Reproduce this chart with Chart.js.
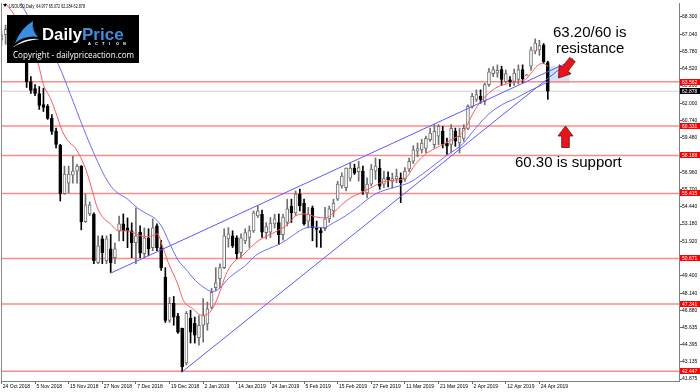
<!DOCTYPE html>
<html><head><meta charset="utf-8">
<script src="https://cdn.jsdelivr.net/npm/chart.js@4.4.1/dist/chart.umd.min.js"></script>
<style>html,body{margin:0;padding:0;background:#fff;overflow:hidden}canvas{display:block}</style>
</head><body>
<canvas id="c" width="700" height="392"></canvas>
<script>
// ---------- DATA ----------
const dateLabels = ['24 Oct 2018','5 Nov 2018','15 Nov 2018','27 Nov 2018','7 Dec 2018','19 Dec 2018','2 Jan 2019','14 Jan 2019','24 Jan 2019','5 Feb 2019','15 Feb 2019','27 Feb 2019','11 Mar 2019','21 Mar 2019','2 Apr 2019','12 Apr 2019','24 Apr 2019'];
const dateTickIdx = [0,8,16,24,32,40,48,56,64,72,80,88,96,104,112,120,128];

const opens = [66.6,67.0,67.4,67.5,67.0,66.2,65.3,63.58,63.07,62.71,61.90,61.77,60.90,59.95,58.95,55.40,56.17,56.76,57.05,57.41,
53.35,53.92,53.92,50.37,52.11,50.51,51.38,50.73,52.69,53.20,52.91,52.69,51.82,52.60,51.02,52.18,51.46,53.05,51.46,49.30,
46.16,47.39,46.46,45.57,43.05,46.30,45.93,44.90,45.80,45.90,47.10,48.55,49.20,50.00,52.10,52.33,52.18,51.10,51.96,52.20,
52.69,53.77,53.90,52.55,52.60,53.20,53.30,52.40,53.30,54.50,54.00,55.38,54.72,53.40,54.36,52.90,52.70,52.84,53.56,54.14,
55.00,55.96,55.84,56.54,57.26,57.00,57.05,55.45,56.10,57.05,57.26,56.10,56.60,56.30,56.47,56.56,56.47,57.19,57.77,58.50,
58.60,58.71,59.35,58.98,59.59,59.95,59.08,59.00,59.95,59.10,59.44,60.17,61.77,62.28,62.50,62.13,63.36,64.16,64.20,64.45,
63.58,63.70,63.60,63.73,64.45,64.00,64.70,65.80,65.90,66.24,64.977];
const highs = [67.3,67.7,67.9,67.6,67.2,66.4,65.5,63.94,63.36,63.22,63.10,61.91,61.18,60.19,59.00,57.41,57.41,58.14,57.55,57.45,
55.38,54.80,54.00,52.33,52.33,52.33,52.44,51.80,53.77,53.92,53.63,53.27,54.36,53.05,52.90,52.84,53.56,53.20,52.00,50.00,
47.83,47.90,46.66,45.60,46.80,46.90,46.40,46.50,47.75,47.49,48.50,50.00,50.28,52.84,52.93,52.69,52.33,52.47,52.84,53.05,
54.14,54.50,54.20,53.29,53.66,53.90,53.92,53.90,55.00,55.00,55.60,55.74,55.00,54.40,54.50,53.40,52.93,54.40,54.50,55.00,
56.30,56.92,57.29,57.65,57.55,57.77,57.41,56.56,57.53,58.00,57.90,57.05,57.00,56.90,57.20,56.92,57.30,58.00,58.90,59.10,
59.37,59.60,60.19,60.44,60.44,60.31,59.46,60.44,60.19,60.19,60.44,61.89,62.73,62.98,62.98,63.46,64.55,64.67,64.80,64.70,
64.43,63.94,64.50,64.80,64.80,64.10,66.10,66.70,66.60,66.36,65.072];
const lows = [66.2,66.3,66.8,66.6,65.8,65.1,63.15,62.71,62.56,61.55,61.40,60.82,59.73,58.74,54.87,55.35,55.45,56.17,56.17,52.76,
53.30,53.80,50.29,50.29,50.29,50.29,49.65,50.30,51.96,51.96,51.46,50.73,50.29,50.73,50.73,50.87,51.24,51.24,49.80,46.00,
46.00,45.80,45.21,42.40,42.90,44.50,44.50,44.34,44.56,45.43,47.00,48.30,48.55,49.93,51.50,51.47,50.66,50.73,51.75,51.48,
52.57,53.66,52.20,52.09,52.20,52.90,51.70,52.00,53.05,53.30,53.80,54.14,53.10,52.90,51.96,51.50,51.47,52.70,53.30,53.70,
54.90,55.80,55.60,56.32,56.80,56.32,55.35,55.10,55.96,56.44,55.72,55.84,55.90,55.80,56.20,54.75,56.30,57.00,57.60,58.10,
58.37,58.40,59.22,58.74,58.98,58.74,58.26,58.37,58.86,58.37,59.22,60.07,61.64,62.13,62.00,61.89,63.22,63.94,63.90,63.30,
63.46,63.22,63.30,63.40,63.50,64.00,64.40,65.60,65.50,64.90,62.284];
const closes = [67.0,67.4,67.6,67.0,66.1,65.3,63.58,62.93,62.71,61.84,61.69,60.90,59.95,59.00,55.40,56.83,56.83,57.05,57.41,53.35,
54.58,54.58,50.51,51.60,51.09,52.11,50.37,51.38,53.20,52.69,52.69,51.82,52.33,51.05,52.18,51.38,52.90,51.46,50.00,46.16,
47.39,46.39,45.30,42.75,46.66,45.30,45.07,45.80,46.50,47.00,48.20,48.90,50.00,52.33,52.47,51.60,51.02,52.18,52.57,52.70,
54.00,54.14,52.60,53.00,53.25,53.56,52.40,53.70,54.29,54.00,55.38,54.50,53.20,53.90,52.91,52.80,52.55,53.56,54.29,54.72,
56.10,56.68,57.26,57.26,56.90,57.30,55.59,56.10,57.19,57.41,55.95,56.50,56.40,56.50,56.68,56.20,57.05,57.77,58.60,58.70,
59.10,59.44,59.83,59.95,60.31,59.00,58.86,60.17,59.23,59.59,60.17,61.77,62.50,62.64,62.28,63.36,64.30,64.45,64.40,63.73,
64.16,63.58,64.20,64.45,63.80,64.05,65.90,66.40,66.20,65.03,62.878];

// moving averages (bar position, price)
const fastMaAt = [0,1.67,3.33,5.95,8.8,10.0,11.66,12.85,14.51,15.94,17.61,19.27,20.46,21.65,22.84,24.27,25.93,27.84,29.98,31.41,33.07,34.26,35.93,37.1,38.3,39.7,41.9,43.3,45.4,47.8,49.25,50.4,52.1,53.3,54.96,57.34,59.24,61.15,63.29,65.67,68.28,69.95,72.33,74.71,77.09,78.99,80.66,83.04,85.42,87.8,90.65,93.74,96.12,98.5,100.88,103.26,105.64,107.3,109.2,110.4,112.06,113.5,115.87,118.25,120.63,123.0,124.67,126.33,127.76,128.95,130.15];
const fastMa = [69.6,69.03,68.30,66.56,64.81,63.36,62.35,61.40,59.95,59.22,58.72,57.77,56.83,55.59,54.36,53.63,53.20,52.69,52.69,52.55,52.33,52.26,52.33,52.47,51.60,50.37,48.84,47.61,47.03,46.52,46.66,47.10,48.34,49.42,50.30,50.88,51.46,51.97,52.33,52.69,53.2,53.78,53.92,53.71,53.63,54.0,54.51,55.09,55.45,55.81,56.25,56.39,56.54,57.55,58.28,58.72,59.08,59.37,59.73,60.17,61.19,61.91,62.71,63.22,63.44,63.58,63.73,64.31,64.81,64.89,64.67];
const slowMaAt = [4.52,6.42,13.56,16.42,19.51,22.84,25.22,27.12,29.98,32.36,34.26,36.64,38.31,39.73,42.11,43.78,46.16,48.54,50.2,52.1,54.0,56.39,58.05,60.43,63.53,66.38,69.24,71.85,74.23,76.61,78.99,81.85,84.23,86.6,88.98,91.36,93.74,96.84,100.17,103.26,106.35,109.68,112.78,115.87,119.2,122.3,125.39,128.72,130.15];
const slowMa = [69.39,68.30,64.81,62.64,60.17,57.77,56.32,55.59,55.01,54.36,53.99,53.56,52.91,51.97,50.51,49.93,49.06,48.48,48.26,48.55,49.21,49.79,50.15,50.88,51.38,51.75,52.33,52.84,52.98,52.91,53.27,53.78,54.29,54.87,55.38,55.67,55.89,56.18,56.83,57.56,58.28,59.01,60.17,61.19,61.91,62.35,62.86,63.36,63.58];

// channel trendlines (bar position, price)
const upperTrendAt = [26, 136];
const upperTrend = [49.6, 65.15];
const lowerTrendAt = [43, 136];
const lowerTrend = [42.40, 65.28];

const levels = [63.562, 60.331, 58.188, 55.415, 50.671, 47.341, 42.447];
const bidPrice = 62.878;
const yTicks = [68.300,67.040,65.780,64.520,63.260,62.000,60.740,59.480,58.220,56.960,55.700,54.440,53.180,51.920,50.660,49.400,48.140,46.880,45.635,44.395,43.135,41.875];
const titleText = 'USOUSD,Daily  64.977 65.072 62.284 62.878';

// ---------- BUILD ----------
const idx = opens.map((_, i) => i);
const isUp = idx.map(i => closes[i] >= opens[i]);
const UPC = '#707070';
const wickData = idx.map(i => ({x: i, y: [lows[i], highs[i]]}));
const bodyData = idx.map(i => ({x: i, y: [opens[i], closes[i]]}));
const pts = (xs, ys) => xs.map((x, k) => ({x, y: ys[k]}));

const datasets = [];
levels.forEach(L => datasets.push({type:'line', data:[{x:-5,y:L},{x:200,y:L}], borderColor:'#ff8a8a', borderWidth:1.5, pointRadius:0, order:10}));
datasets.push({type:'line', data:[{x:-5,y:bidPrice},{x:200,y:bidPrice}], borderColor:'#cfcfcf', borderWidth:1, pointRadius:0, order:10});
datasets.push({type:'bar', data:wickData, backgroundColor: idx.map(i => isUp[i] ? UPC : '#000'), barThickness:1, grouped:false, borderWidth:0, minBarLength:1, order:6});
datasets.push({type:'bar', data:bodyData, backgroundColor: idx.map(i => isUp[i] ? '#fff' : '#000'), borderColor: idx.map(i => isUp[i] ? UPC : '#000'), borderWidth:1, borderSkipped:false, barThickness:3, grouped:false, minBarLength:1, order:5});
datasets.push({type:'line', data:pts(fastMaAt, fastMa), borderColor:'#ff5a5a', borderWidth:1, pointRadius:0, cubicInterpolationMode:'monotone', order:3});
datasets.push({type:'line', data:pts(slowMaAt, slowMa), borderColor:'#6a6aff', borderWidth:1, pointRadius:0, cubicInterpolationMode:'monotone', order:3});
datasets.push({type:'line', data:pts(upperTrendAt, upperTrend), borderColor:'#5a5aff', borderWidth:1, pointRadius:0, order:2});
datasets.push({type:'line', data:pts(lowerTrendAt, lowerTrend), borderColor:'#5a5aff', borderWidth:1, pointRadius:0, order:2});

function arrow(ctx, tx, ty, bx, by, headLen, headHalf, shaftHalf) {
  const dx = tx - bx, dy = ty - by, len = Math.hypot(dx, dy);
  const ux = dx / len, uy = dy / len, px = -uy, py = ux;
  const hx = tx - ux * headLen, hy = ty - uy * headLen;
  ctx.beginPath();
  ctx.moveTo(tx, ty);
  ctx.lineTo(hx + px * headHalf, hy + py * headHalf);
  ctx.lineTo(hx + px * shaftHalf, hy + py * shaftHalf);
  ctx.lineTo(bx + px * shaftHalf, by + py * shaftHalf);
  ctx.lineTo(bx - px * shaftHalf, by - py * shaftHalf);
  ctx.lineTo(hx - px * shaftHalf, hy - py * shaftHalf);
  ctx.lineTo(hx - px * headHalf, hy - py * headHalf);
  ctx.closePath();
  ctx.fillStyle = '#e8141c';
  ctx.fill();
  ctx.strokeStyle = '#7a0a0a';
  ctx.lineWidth = 0.8;
  ctx.stroke();
}

const overlay = {
  id: 'overlay',
  beforeDatasetsDraw(chart) {
    const ctx = chart.ctx, x = chart.scales.x, y = chart.scales.y;
    ctx.save();
    ctx.fillStyle = 'rgba(170,205,235,0.55)';
    const x0 = x.getPixelForValue(130.1), x1 = x.getPixelForValue(135.2);
    const y0 = y.getPixelForValue(64.7), y1 = y.getPixelForValue(63.45);
    ctx.fillRect(x0, y0, x1 - x0, y1 - y0);
    ctx.restore();
  },
  afterDraw(chart) {
    const ctx = chart.ctx, ca = chart.chartArea, y = chart.scales.y;
    ctx.save();
    // left frame
    ctx.strokeStyle = '#8a8a8a'; ctx.lineWidth = 1;
    ctx.beginPath(); ctx.moveTo(ca.left + 0.5, ca.top); ctx.lineTo(ca.left + 0.5, ca.bottom); ctx.stroke();

    // price boxes on axis
    ctx.font = '5px "Liberation Sans"'; ctx.textBaseline = 'middle'; ctx.textAlign = 'left';
    levels.forEach(L => {
      const py = Math.round(y.getPixelForValue(L));
      ctx.fillStyle = '#ff0000'; ctx.fillRect(ca.right + 1, py - 3, 20, 6);
      ctx.fillStyle = '#fff'; ctx.fillText(L.toFixed(3), ca.right + 3, py + 0.5);
    });
    const by = Math.round(y.getPixelForValue(bidPrice));
    ctx.fillStyle = '#000'; ctx.fillRect(ca.right + 1, by - 3, 20, 6);
    ctx.fillStyle = '#fff'; ctx.fillText(bidPrice.toFixed(3), ca.right + 3, by + 0.5);

    // title
    ctx.fillStyle = '#000';
    ctx.beginPath(); ctx.moveTo(3, 4); ctx.lineTo(7, 4); ctx.lineTo(5, 7); ctx.closePath(); ctx.fill();
    ctx.font = '5px "Liberation Sans"'; ctx.textBaseline = 'alphabetic';
    ctx.fillText(titleText, 9, 7.5, 76);

    // logo
    ctx.fillStyle = '#000'; ctx.fillRect(7, 15, 132, 48);
    ctx.fillStyle = '#3a8ee0';
    ctx.beginPath();
    ctx.moveTo(15, 43);
    ctx.quadraticCurveTo(21, 28, 33, 21);
    ctx.quadraticCurveTo(32, 31, 38, 37);
    ctx.quadraticCurveTo(26, 35, 15, 43);
    ctx.fill();
    ctx.fillStyle = '#1f5fae';
    ctx.beginPath();
    ctx.moveTo(33, 21); ctx.quadraticCurveTo(32, 31, 38, 37); ctx.quadraticCurveTo(30, 30, 33, 21); ctx.fill();
    ctx.fillStyle = '#fff';
    ctx.beginPath();
    ctx.moveTo(13, 47);
    ctx.quadraticCurveTo(25, 37, 40, 39);
    ctx.quadraticCurveTo(26, 40, 13, 47);
    ctx.fill();
    ctx.font = 'bold 17px "Liberation Sans"';
    ctx.fillStyle = '#fff';
    ctx.fillText('Daily', 42, 40, 40);
    ctx.fillStyle = '#3d8fe0';
    ctx.fillText('Price', 82, 40, 45);
    ctx.fillStyle = '#fff';
    ctx.font = 'bold 4px "Liberation Sans"';
    'ACTION'.split('').forEach((ch, k) => ctx.fillText(ch, 88 + k * 7, 44.5));
    ctx.font = '9px "Open Sans"';
    ctx.fillText('Copyright - dailypriceaction.com', 13, 58, 121);

    // annotations
    ctx.fillStyle = '#000';
    ctx.font = '15px "Liberation Sans"';
    ctx.fillText('63.20/60 is', 553, 36.5);
    ctx.fillText('resistance', 556, 53);
    ctx.fillText('60.30 is support', 515, 166.5);
    arrow(ctx, 558.5, 78, 572.5, 59.5, 11, 7.5, 3.5);
    arrow(ctx, 565.5, 126, 565.5, 147.5, 10, 7.5, 3.8);
    ctx.restore();
  }
};

new Chart(document.getElementById('c'), {
  type: 'bar',
  data: { datasets },
  options: {
    responsive: false, animation: false, events: [],
    layout: { padding: { left: 1, top: 1, right: 0, bottom: 0 } },
    plugins: { legend: { display: false }, tooltip: { enabled: false } },
    scales: {
      x: {
        type: 'linear', min: -0.1, max: 161.21, offset: false,
        afterBuildTicks: s => { s.ticks = dateTickIdx.map(v => ({ value: v })); },
        afterFit: s => { s.height = 11; },
        ticks: { callback: (v, i) => ' ' + dateLabels[i], align: 'start', autoSkip: false, maxRotation: 0, minRotation: 0,
                 font: { size: 5, family: '"Liberation Sans"' }, color: '#000', padding: 0 },
        grid: { drawOnChartArea: false, drawTicks: true, tickLength: 3, color: '#666', offset: false },
        border: { display: true, color: '#808080' }
      },
      y: {
        type: 'linear', position: 'right', min: 41.730, max: 69.316,
        afterBuildTicks: s => { s.ticks = yTicks.map(v => ({ value: v })); },
        afterFit: s => { s.width = 21; },
        ticks: { callback: v => v.toFixed(3), autoSkip: false, font: { size: 5, family: '"Liberation Sans"' }, color: '#000', padding: 0 },
        grid: { drawOnChartArea: false, drawTicks: true, tickLength: 3, color: '#666' },
        border: { display: true, color: '#808080' }
      }
    }
  },
  plugins: [overlay]
});
</script>
</body></html>
